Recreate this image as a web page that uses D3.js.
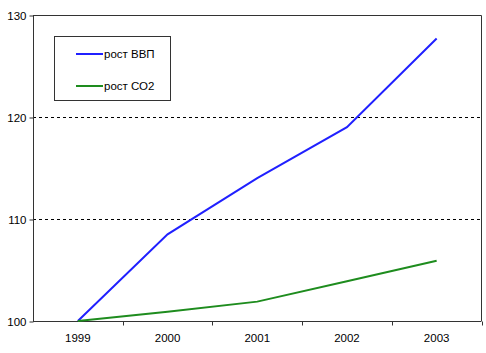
<!DOCTYPE html>
<html><head><meta charset="utf-8">
<script src="https://cdn.jsdelivr.net/npm/d3@7"></script>
<style>body{margin:0;background:#fff}svg{display:block}text{font-family:"Liberation Sans",Arial,sans-serif;font-size:11.5px;fill:#000}</style>
</head><body><svg id="c" width="486" height="353"></svg>
<script>
const years = ["1999","2000","2001","2002","2003"];
const gdp = [100, 108.5, 114.0, 119.0, 127.7];
const co2 = [100, 100.9, 101.9, 103.9, 105.9];
const seriesNames = ["рост ВВП","рост СО2"];
const yTicks = [100,110,120,130];

const svg = d3.select("#c");
const L=33, R=481.5, T=15, B=321;
const x = d3.scaleBand().domain(years).range([L,R]);
const y = d3.scaleLinear().domain([100,130]).range([B,T]);
const ax="#333";

// gridlines
svg.append("g").selectAll("line").data(yTicks.filter(v=>v>100&&v<130)).join("line")
 .attr("x1",L).attr("x2",R).attr("y1",d=>y(d)+0.5).attr("y2",d=>y(d)+0.5)
 .attr("stroke","#000").attr("stroke-dasharray","3,3");
// border top/right
svg.append("path").attr("d",`M${L},${T+0.5}H${R}V${B}`).attr("fill","none").attr("stroke",ax);

// y axis
const ya = svg.append("g").attr("transform",`translate(${L+0.5},0.5)`)
 .call(d3.axisLeft(y).tickValues(yTicks).tickSize(4).tickPadding(3));
ya.select(".domain").attr("stroke",ax).attr("d",`M0,${T}V${B}`);
ya.selectAll(".tick line").attr("stroke",ax);
ya.selectAll("text").style("font-size","11.5px").attr("fill","#000");

// x axis
const xa = svg.append("g").attr("transform",`translate(0,${B+0.5})`)
 .call(d3.axisBottom(x).tickSize(0).tickPadding(12));
xa.select(".domain").attr("stroke",ax).attr("d",`M${L},0H${R}`);
xa.selectAll("text").style("font-size","11.5px").attr("fill","#000");
xa.append("g").selectAll("line").data(years).join("line")
 .attr("x1",(d,i)=>Math.round(L+x.step()*(i+1))+0.5).attr("x2",(d,i)=>Math.round(L+x.step()*(i+1))+0.5)
 .attr("y1",0).attr("y2",4).attr("stroke",ax);

const line = d3.line().x((d,i)=>x(years[i])+x.bandwidth()/2).y(d=>y(d));
const colors = ["#2020ff","#1e8c1e"];
[gdp,co2].forEach((s,k)=>{
 svg.append("path").datum(s).attr("d",line).attr("fill","none")
  .attr("stroke",colors[k]).attr("stroke-width",2);
});

// legend
const lg = svg.append("g");
lg.append("rect").attr("x",54.5).attr("y",36.5).attr("width",116).attr("height",64)
 .attr("fill","#fff").attr("stroke",ax);
const ly=[54,86];
seriesNames.forEach((n,k)=>{
 lg.append("line").attr("x1",76).attr("x2",103).attr("y1",ly[k]).attr("y2",ly[k])
  .attr("stroke",colors[k]).attr("stroke-width",2);
 lg.append("text").attr("x",104).attr("y",ly[k]).attr("dy","0.35em").text(n);
});
</script></body></html>
